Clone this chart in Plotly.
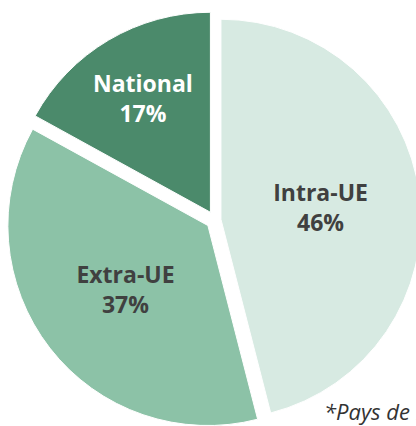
import plotly.graph_objects as go

labels = ["Intra-UE", "Extra-UE", "National"]
values = [46, 37, 17]
colors = ["#d7eae2", "#8cc2a7", "#4b8a6b"]
text_colors = ["#404040", "#404040", "#ffffff"]
footnote = "*Pays de l'Union européenne"

fig = go.Figure(
    go.Pie(
        labels=labels,
        values=values,
        sort=False,
        direction="clockwise",
        rotation=0,
        pull=[0.03, 0.045, 0.045],
        marker=dict(colors=colors, line=dict(color="white", width=1)),
        texttemplate="<b>%{label}</b><br><b>%{percent:.0%}</b>",
        textposition="inside",
        insidetextorientation="horizontal",
        textfont=dict(family="Open Sans", size=23, color=text_colors),
        hoverinfo="skip",
        showlegend=False,
    )
)

fig.add_annotation(
    text=footnote,
    xref="paper", yref="paper",
    x=0.755, y=0.003, xanchor="left", yanchor="bottom",
    showarrow=False,
    font=dict(family="Open Sans", size=22, color="#333333", style="italic"),
)

fig.update_layout(
    width=430,
    height=432,
    margin=dict(l=6, r=6, t=11, b=3),
    paper_bgcolor="white",
    plot_bgcolor="white",
)

fig.write_html(
    "out.html",
    config={"displayModeBar": False},
    post_script="document.body.style.margin='0';document.body.style.overflow='hidden';",
)
